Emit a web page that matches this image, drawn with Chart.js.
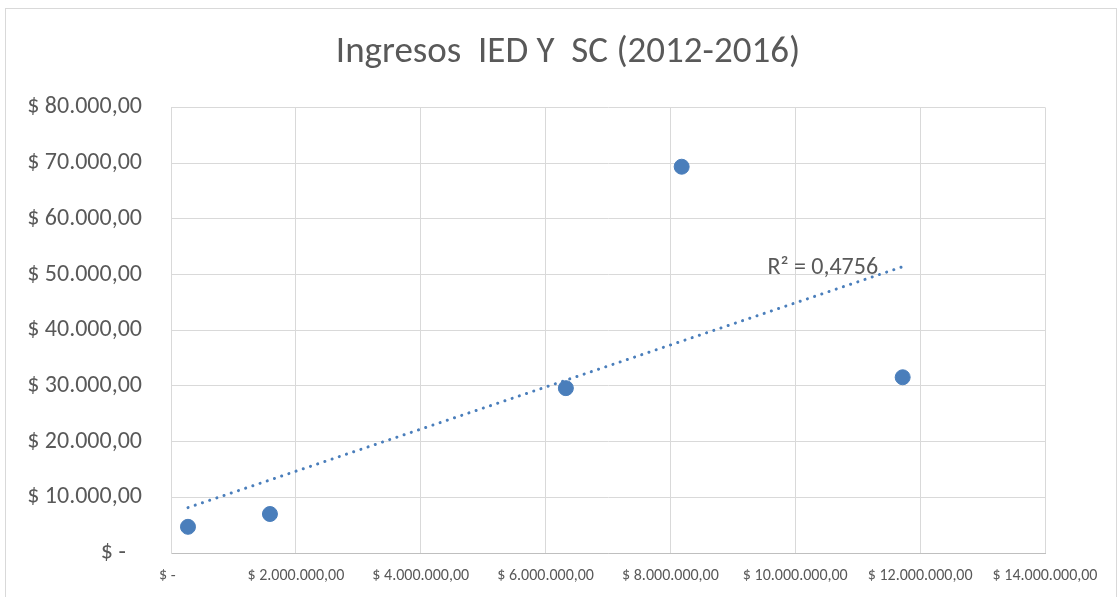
<!DOCTYPE html>
<html>
<head>
<meta charset="utf-8">
<script src="https://cdn.jsdelivr.net/npm/chart.js@4"></script>
<style>
  html, body { margin: 0; padding: 0; background: #fff; }
  #frame {
    position: absolute; left: 5px; top: 8px; width: 1112px; height: 600px;
    border: 1px solid #d9d9d9; box-sizing: border-box;
  }
  #wrap { position: absolute; left: 0; top: 0; width: 1120px; height: 597px; }
</style>
</head>
<body>
<div id="frame"></div>
<div id="wrap"><canvas id="chart" width="1120" height="597"></canvas></div>
<script>
// Datos
const ingresosIED = [272000, 1585000, 6325000, 8180000, 11720000];
const ingresosSC = [4700, 7000, 29600, 69350, 31550];

// Línea de tendencia (extremos)
const tendenciaX = [272000, 11720000];
const tendenciaY = [8150, 51400];
const r2Texto = "R² = 0,4756";

const xTickLabels = ["$ -  ", "$ 2.000.000,00", "$ 4.000.000,00", "$ 6.000.000,00",
  "$ 8.000.000,00", "$ 10.000.000,00", "$ 12.000.000,00", "$ 14.000.000,00"];
const yTickLabels = ["$ -   ", "$ 10.000,00", "$ 20.000,00", "$ 30.000,00", "$ 40.000,00",
  "$ 50.000,00", "$ 60.000,00", "$ 70.000,00", "$ 80.000,00"];

const FONT = "Carlito, 'Liberation Sans', Arial, sans-serif";
const GRIS = "#595959";
const AZUL = "#4A7EBB";

// R² Etikett
const r2Plugin = {
  id: "r2Label",
  afterDatasetsDraw(chart) {
    const { ctx, scales } = chart;
    const px = scales.x.getPixelForValue(10440000);
    const py = scales.y.getPixelForValue(51100);
    ctx.save();
    ctx.font = "24px " + FONT;
    ctx.fillStyle = GRIS;
    ctx.textAlign = "center";
    ctx.textBaseline = "middle";
    ctx.fillText(r2Texto, px, py);
    ctx.restore();
  }
};

new Chart(document.getElementById("chart"), {
  type: "scatter",
  data: {
    datasets: [
      {
        label: "Ingresos",
        data: ingresosIED.map((x, i) => ({ x, y: ingresosSC[i] })),
        backgroundColor: AZUL,
        borderColor: AZUL,
        pointRadius: 7.5,
        pointHoverRadius: 7.5,
        order: 2
      },
      {
        label: "Tendencia",
        data: tendenciaX.map((x, i) => ({ x, y: tendenciaY[i] })),
        showLine: true,
        borderColor: AZUL,
        borderWidth: 3,
        borderDash: [0.1, 7.5],
        borderCapStyle: "round",
        pointRadius: 0,
        order: 1
      }
    ]
  },
  options: {
    responsive: false,
    animation: false,
    events: [],
    layout: { padding: { left: 16, right: 0, top: 0, bottom: 0 } },
    plugins: {
      legend: { display: false },
      tooltip: { enabled: false },
      title: {
        display: true,
        text: "Ingresos  IED Y  SC (2012-2016)",
        color: GRIS,
        font: { family: FONT, size: 37, weight: "normal" },
        padding: { top: 31, bottom: 32 }
      }
    },
    scales: {
      x: {
        type: "linear",
        min: 0,
        max: 14000000,
        afterBuildTicks(scale) {
          scale.ticks = xTickLabels.map((_, i) => ({ value: i * 2000000 }));
        },
        afterFit(scale) { scale.height = 44; },
        ticks: {
          color: GRIS,
          font: { family: FONT, size: 16 },
          padding: 13,
          maxRotation: 0,
          autoSkip: false,
          callback: (v, i) => xTickLabels[i]
        },
        grid: { color: "#d9d9d9", drawTicks: false, lineWidth: 1 },
        border: { color: "#bfbfbf" }
      },
      y: {
        min: 0,
        max: 80000,
        afterBuildTicks(scale) {
          scale.ticks = yTickLabels.map((_, i) => ({ value: i * 10000 }));
        },
        afterFit(scale) { scale.width = 155; },
        ticks: {
          color: GRIS,
          font: { family: FONT, size: 24 },
          padding: 29,
          autoSkip: false,
          callback: (v, i) => yTickLabels[i]
        },
        grid: { color: "#d9d9d9", drawTicks: false, lineWidth: 1 },
        border: { color: "#d9d9d9" }
      },
      // leerer Rand rechts, damit der Titel mittig sitzt
      yRand: {
        position: "right",
        min: 0,
        max: 1,
        afterFit(scale) { scale.width = 75; },
        ticks: { display: false },
        grid: { display: false },
        border: { display: false }
      }
    }
  },
  plugins: [r2Plugin]
});
</script>
</body>
</html>
